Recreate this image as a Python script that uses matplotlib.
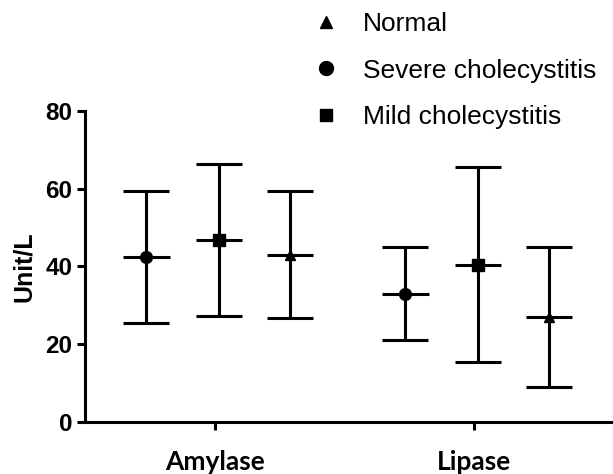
import matplotlib
matplotlib.use("Agg")
import matplotlib.pyplot as plt
from matplotlib.lines import Line2D
import numpy as np

# values (Unit/L)
enzymes = ["Amylase", "Lipase"]
groups = ["Severe cholecystitis", "Mild cholecystitis", "Normal"]
markers = ["o", "s", "^"]
means = {
    "Severe cholecystitis": [42.4, 33.0],
    "Mild cholecystitis": [46.7, 40.3],
    "Normal": [43.0, 27.1],
}
upper = {
    "Severe cholecystitis": [59.3, 45.0],
    "Mild cholecystitis": [66.4, 65.4],
    "Normal": [59.3, 45.0],
}
lower = {
    "Severe cholecystitis": [25.4, 21.0],
    "Mild cholecystitis": [27.2, 15.3],
    "Normal": [26.7, 9.0],
}
legend_order = ["Normal", "Severe cholecystitis", "Mild cholecystitis"]

fig = plt.figure(figsize=(6.13, 4.74), dpi=100)
ax = fig.add_axes([0.1387, 0.1097, 0.8613, 0.6568])

offsets = [-0.265, 0.015, 0.29]
half_bar = 0.09
for g, (name, mk) in enumerate(zip(groups, markers)):
    x = np.arange(1, len(enzymes) + 1) + offsets[g]
    m = np.array(means[name])
    yerr = [m - np.array(lower[name]), np.array(upper[name]) - m]
    ax.errorbar(x, m, yerr=yerr, fmt="none", ecolor="black", elinewidth=2.2,
                capsize=16.5, capthick=2.2)
    ax.hlines(m, x - half_bar, x + half_bar, colors="black", linewidth=2.2)
    ms = 8.5 if mk != "^" else 6.5
    ax.plot(x, m, linestyle="none", marker=mk, color="black", markersize=ms,
            zorder=3)

ax.set_xlim(0.498, 2.537)
ax.set_ylim(0, 80)
ax.set_yticks([0, 20, 40, 60, 80])
ax.set_xticks([1, 2])
ax.set_xticklabels(enzymes, fontsize=19, fontweight="bold", family="Lato")
for lab in ax.get_yticklabels():
    lab.set_fontsize(17.5)
    lab.set_fontweight("bold")
    lab.set_family("Liberation Sans")
ax.tick_params(axis="y", length=6, width=2.2, pad=3)
ax.tick_params(axis="x", length=6, width=2.2, pad=14)
ax.set_ylabel("Unit/L", fontsize=18, fontweight="bold", family="Liberation Sans",
              labelpad=7)
ax.spines["top"].set_visible(False)
ax.spines["right"].set_visible(False)
ax.spines["left"].set_linewidth(2.2)
ax.spines["bottom"].set_linewidth(2.2)

handles = []
for name in legend_order:
    mk = markers[groups.index(name)]
    size = {"^": 8, "o": 10, "s": 8.5}[mk]
    handles.append(Line2D([], [], linestyle="none", marker=mk, color="black",
                          markersize=size, label=name))
fig.legend(handles=handles, loc="upper left", bbox_to_anchor=(0.4715, 1.025),
           frameon=False, prop={"family": "Liberation Sans", "size": 19},
           labelspacing=0.86, handletextpad=0.9, handlelength=1.0)

fig.savefig("out.png", dpi=100)
